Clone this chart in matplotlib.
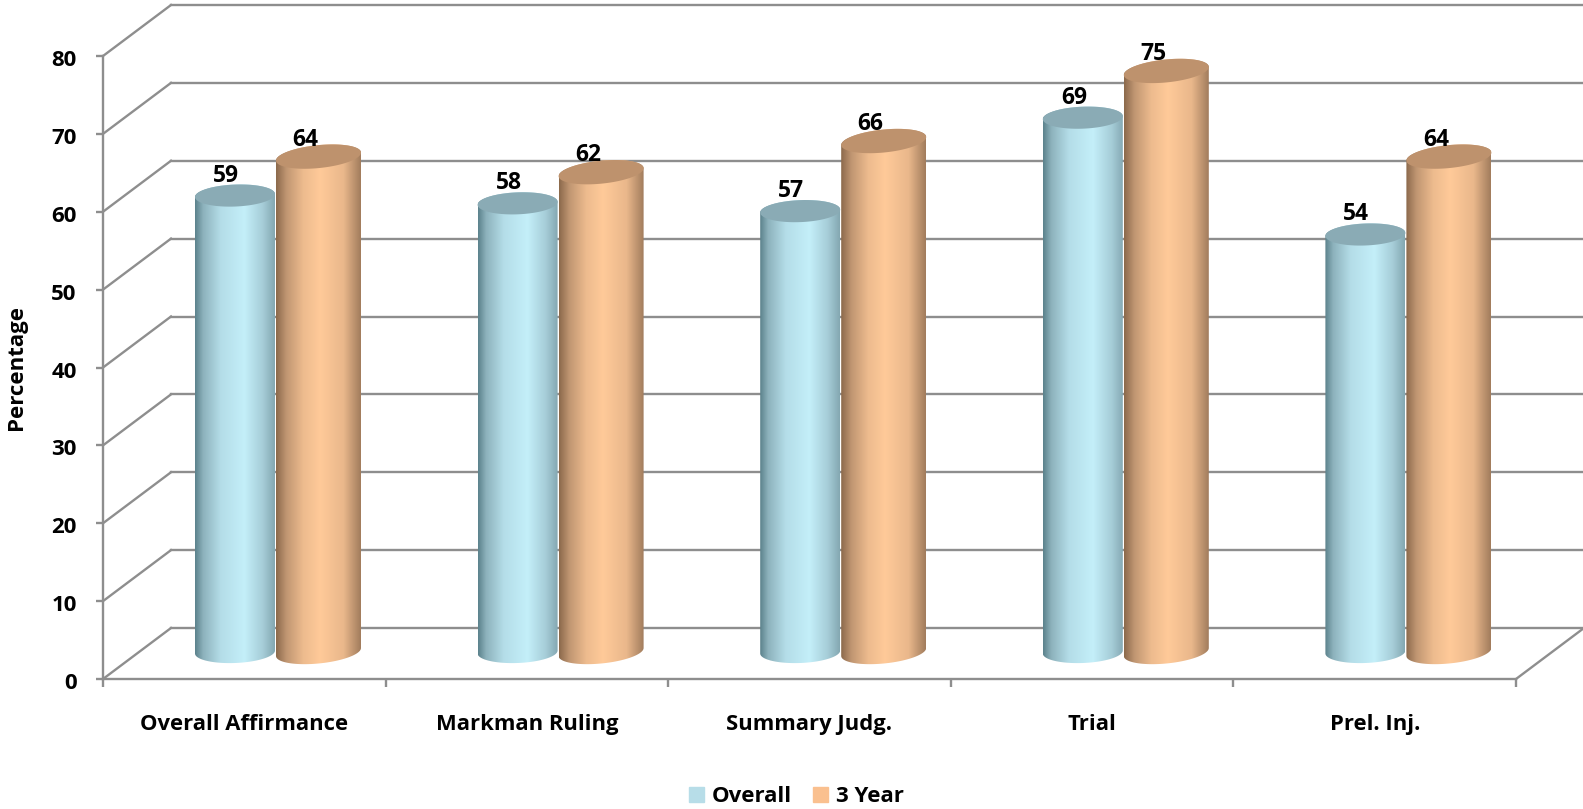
import numpy as np
import matplotlib
matplotlib.use('Agg')
import matplotlib.pyplot as plt
from matplotlib.colors import LinearSegmentedColormap
from matplotlib.patches import Patch, PathPatch
from matplotlib.path import Path
from matplotlib.transforms import ScaledTranslation

categories = ['Overall Affirmance', 'Markman Ruling', 'Summary Judg.', 'Trial', 'Prel. Inj.']
overall = [59, 58, 57, 69, 54]
three_year = [64, 62, 66, 75, 64]
y_ticks = [0, 10, 20, 30, 40, 50, 60, 70, 80]

plt.rcParams['font.family'] = ['Open Sans', 'DejaVu Sans']
plt.rcParams['font.weight'] = 'bold'
plt.rcParams['axes.labelweight'] = 'bold'

W, H = 1583, 809
fig = plt.figure(figsize=(W / 100, H / 100), dpi=100)
ax = fig.add_axes([103 / W, 1 - 679 / H, (1516 - 103) / W, (679 - 56) / H])
ax.set_xlim(-0.5, 4.5)
ax.set_ylim(0, 80)

px_x = (1516 - 103) / 5      # pixels per category
px_y = (679 - 56) / 80       # pixels per percent
depth_x = 68 / px_x
depth_y = 51 / px_y
grid_col = '#8E8E8E'
base = (679 - 652) / px_y    # where the cylinders stand, on the floor
top_fix = 3 / px_y

# back wall + side wall lines
for v in y_ticks:
    ax.plot([-0.5, -0.5 + depth_x], [v, v + depth_y], color=grid_col, lw=1.7, clip_on=False, zorder=1)
    ax.plot([-0.5 + depth_x, 4.5 + depth_x], [v + depth_y, v + depth_y], color=grid_col, lw=1.7, clip_on=False, zorder=1)
ax.plot([4.5, 4.5 + depth_x], [0, depth_y], color=grid_col, lw=1.7, clip_on=False, zorder=1)

blue_map = LinearSegmentedColormap.from_list('blue_cyl', [
    (0, '#5C838D'), (0.1, '#8DB2BC'), (0.32, '#B4DDE8'), (0.62, '#C4EFF9'), (0.85, '#A6CDD8'), (1, '#84A8B2')])
orange_map = LinearSegmentedColormap.from_list('orange_cyl', [
    (0, '#8C6A4C'), (0.12, '#C09672'), (0.32, '#EDBB8E'), (0.52, '#FFCA99'), (0.8, '#E9B78B'), (1, '#A27D5D')])


def ellipse_pts(cx, cy, a, b, tilt, t):
    return cx + a * np.cos(t), cy + b * np.sin(t) + tilt * np.cos(t)


def cylinder(cx, value, half_w, half_h, tilt, cmap, cap_col, z):
    top = base + value - top_fix
    t_low = np.linspace(np.pi, 2 * np.pi, 60)
    t_up = np.linspace(0, np.pi, 60)
    xb, yb = ellipse_pts(cx, base, half_w, half_h, tilt, t_low)
    xt, yt = ellipse_pts(cx, top, half_w, half_h, tilt, t_up)
    pts = np.vstack([np.column_stack([xb, yb]), np.column_stack([xt, yt]), [[xb[0], yb[0]]]])
    body = PathPatch(Path(pts, closed=True), fc='none', ec='none', zorder=z)
    ax.add_patch(body)
    im = ax.imshow(np.linspace(0, 1, 200).reshape(1, -1), cmap=cmap, aspect='auto', zorder=z,
                   extent=[cx - half_w, cx + half_w, base - half_h - tilt, top + half_h + tilt])
    im.set_clip_path(body)
    t = np.linspace(0, 2 * np.pi, 120)
    xc, yc = ellipse_pts(cx, top, half_w, half_h, tilt, t)
    ax.fill(xc, yc, color=cap_col, lw=0, zorder=z + 0.1, clip_on=False)


for i in range(len(categories)):
    cx1 = i - 9.3 / px_x
    cx2 = i + 74.2 / px_x
    cylinder(cx1, overall[i], 40 / px_x, 11 / px_y, 1.5 / px_y, blue_map, '#8AABB5', 3)
    cylinder(cx2, three_year[i], 42.5 / px_x, 11.5 / px_y, 4 / px_y, orange_map, '#BE926D', 4)
    ax.text(cx1 - 9 / px_x, base + overall[i] + 17 / px_y, str(overall[i]), ha='center', va='center',
            fontsize=16.5, color='black', zorder=6)
    ax.text(cx2 - 13 / px_x, base + three_year[i] + 14 / px_y, str(three_year[i]), ha='center', va='center',
            fontsize=16.5, color='black', zorder=6)

ax.set_xlim(-0.5, 4.5)
ax.set_ylim(0, 80)

for s in ['top', 'right']:
    ax.spines[s].set_visible(False)
for s in ['left', 'bottom']:
    ax.spines[s].set_color(grid_col)
    ax.spines[s].set_linewidth(1.7)
    ax.spines[s].set_zorder(2)
ax.patch.set_alpha(0)

ax.set_yticks(y_ticks)
ax.tick_params(axis='y', length=5, width=1.7, color=grid_col, pad=14, labelsize=16)
shift = ScaledTranslation(0, -2 / 100, fig.dpi_scale_trans)
for lab in ax.get_yticklabels():
    lab.set_transform(lab.get_transform() + shift)
ax.set_xticks(np.arange(-0.5, 5, 1))
ax.set_xticklabels([])
ax.tick_params(axis='x', which='major', length=6, width=1.7, color=grid_col)
ax.set_xticks(range(len(categories)), minor=True)
ax.set_xticklabels(categories, minor=True, fontsize=15.8)
ax.tick_params(axis='x', which='minor', length=0, pad=25.5)

ax.set_ylabel('Percentage', fontsize=16)
ax.yaxis.set_label_coords(-76 / (1516 - 103), (679 - 368) / (679 - 56))

handles = [Patch(color='#B7DDE8', label='Overall'), Patch(color='#FAC08F', label='3 Year')]
fig.legend(handles=handles, loc='lower center', bbox_to_anchor=(796 / W, -0.0225), ncol=2, frameon=False,
           fontsize=16, handlelength=0.68, handleheight=0.68, handletextpad=0.35, columnspacing=0.95)

fig.savefig('out.png', dpi=100)
